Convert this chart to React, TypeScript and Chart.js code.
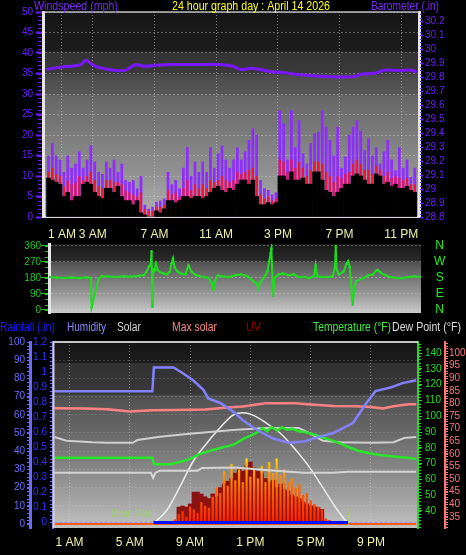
import React, { useEffect, useRef } from "react";
import { Chart, registerables } from "chart.js";

Chart.register(...registerables);

const SANS = '"Liberation Sans", Arial, Helvetica, sans-serif';
const NARROW = '"Liberation Sans Narrow", "Liberation Sans", Arial, sans-serif';

// ================= TOP PANEL: wind speed / barometer =================
const windTimes = [
  0.125, 0.375, 0.625, 0.875, 1.125, 1.375, 1.625, 1.875, 2.125, 2.375, 2.625, 2.875,
  3.125, 3.375, 3.625, 3.875, 4.125, 4.375, 4.625, 4.875, 5.125, 5.375, 5.625, 5.875,
  6.125, 6.375, 6.625, 6.875, 7.125, 7.375, 7.625, 7.875, 8.125, 8.375, 8.625, 8.875,
  9.125, 9.375, 9.625, 9.875, 10.125, 10.375, 10.625, 10.875, 11.125, 11.375, 11.625, 11.875,
  12.125, 12.375, 12.625, 12.875, 13.125, 13.375, 13.625, 13.875, 14.125, 14.375, 14.625, 14.875,
  15.125, 15.375, 15.625, 15.875, 16.125, 16.375, 16.625, 16.875, 17.125, 17.375, 17.625, 17.875,
  18.125, 18.375, 18.625, 18.875, 19.125, 19.375, 19.625, 19.875, 20.125, 20.375, 20.625, 20.875,
  21.125, 21.375, 21.625, 21.875, 22.125, 22.375, 22.625, 22.875, 23.125, 23.375, 23.625, 23.875,
];
const windGust = [
  15, 18, 15, 14, 11, 15, 12, 13, 16, 12, 14, 17.5,
  13.5, 11, 10.5, 13.5, 12, 14, 11, 13, 9, 8.5, 9, 7,
  10, 3, 2, 2.5, 3.7, 4, 4.5, 11, 8, 9, 7, 12,
  17, 10, 13.5, 11, 13.5, 11, 17, 12, 15.5, 17.4, 14, 12,
  14, 17, 14, 16, 18.8, 21.6, 20, 9, 7, 6.6, 5.5, 6,
  26, 22.8, 14, 26, 17, 23.6, 15.5, 13, 18, 20.4, 20.8, 26,
  22, 18.8, 15, 22, 12, 14.7, 20, 22, 23.6, 21, 16.3, 19.2,
  15, 17, 13, 16, 18.8, 14, 11.4, 17, 12, 14, 9.8, 12,
];
const windSpeed = [
  11, 12, 10.5, 10, 7.5, 9, 8, 8.5, 10, 9, 10, 11,
  9, 7.5, 7, 9, 9, 8.5, 8.5, 8, 6.5, 6, 5.5, 5,
  6, 2, 1.5, 1.5, 2.5, 2.5, 3, 6.5, 5.5, 6, 5, 7,
  9, 6.5, 8, 7, 8, 7, 9, 8.5, 9, 10, 9, 8.5,
  9, 11, 10.5, 11, 11.5, 12, 10, 5.5, 4.5, 5, 4, 4.5,
  14, 13.5, 11, 14, 12, 13.5, 12, 10, 11.5, 13.5, 13.5, 13,
  11, 10, 8.5, 10, 9.5, 10.5, 11, 13, 14, 13, 11.5, 11.5,
  10.5, 12.5, 11.5, 10, 11, 9.5, 10, 9.5, 9, 9.5, 8, 8,
];
const windLow = [
  9.5, 9, 8.5, 8, 5, 6, 4, 5, 5, 8, 8.5, 8,
  6, 5, 4.5, 7, 7, 6, 7.5, 5, 4, 4, 3, 4,
  1, 0.5, 0, 0, 1.5, 1, 2, 4, 4, 3.5, 4, 5,
  5, 4.5, 5, 5, 4.5, 5, 6, 7, 7.5, 6.5, 6, 7,
  6.5, 8, 9, 9, 8, 9, 5, 3, 3, 3.5, 3, 3.5,
  10, 10, 9, 11, 9, 9, 9.5, 8, 8, 11, 11, 9,
  6.5, 6, 5, 6, 7, 8, 8, 10, 10.5, 10, 9, 8,
  8, 10.5, 10, 8, 8.5, 7.5, 8, 7, 7, 7.5, 6.5, 6,
];
const baroTimes = [
  0, 0.9, 2.2, 2.55, 2.95, 3.35, 4.25, 5.1, 5.75, 6.4, 7.05, 8.35, 10, 11.25, 12.1,
  12.55, 13.4, 14.5, 15.5, 16.45, 17.75, 19.05, 20.0, 20.35, 21.3, 21.95, 22.95, 23.6, 24,
];
const baroValues = [
  29.855, 29.87, 29.888, 29.92, 29.89, 29.87, 29.85, 29.848, 29.888, 29.877, 29.884, 29.89, 29.89, 29.89, 29.877,
  29.855, 29.862, 29.84, 29.83, 29.816, 29.805, 29.8, 29.805, 29.82, 29.827, 29.85, 29.846, 29.85, 29.836,
];
const windTicks = [0, 5, 10, 15, 20, 25, 30, 35, 40, 45, 50];
const baroTicks = [28.8, 28.9, 29.0, 29.1, 29.2, 29.3, 29.4, 29.5, 29.6, 29.7, 29.8, 29.9, 30.0, 30.1, 30.2];
const topTickHours = [1, 3, 7, 11, 15, 19, 23];
const topTickLabels = ["1 AM", "3 AM", "7 AM", "11 AM", "3 PM", "7 PM", "11 PM"];

// ================= MIDDLE PANEL: wind direction =================
const dirTimes = [
  0, 0.5, 1.0, 1.5, 2.0, 2.4, 2.7, 2.75, 2.8, 2.85, 2.95, 3.05, 3.2, 3.4, 3.8, 4.3, 4.8, 5.3, 5.8, 6.1,
  6.3, 6.45, 6.55, 6.62, 6.65, 6.7, 6.8, 6.9, 7.0, 7.2, 7.4, 7.6, 7.8, 7.9, 8.0, 8.1, 8.3, 8.5, 8.8, 9.0,
  9.2, 9.5, 10.0, 10.3, 10.5, 10.6, 10.7, 10.9, 11.2, 11.6, 12.0, 12.4, 12.8, 13.0, 13.2, 13.4, 13.5, 13.6, 13.8, 14.0,
  14.1, 14.2, 14.3, 14.35, 14.45, 14.55, 14.8, 15.1, 15.5, 15.8, 16.1, 16.5, 16.8, 17.1, 17.2, 17.3, 17.6, 18.0, 18.3, 18.45,
  18.5, 18.55, 18.7, 19.0, 19.2, 19.3, 19.4, 19.5, 19.55, 19.6, 19.7, 19.8, 20.0, 20.3, 20.6, 20.9, 21.1, 21.2, 21.4, 21.7,
  22.0, 22.4, 22.8, 23.2, 23.6, 24,
];
const dirValues = [
  185, 182, 180, 183, 178, 184, 180, 15, 35, 60, 90, 125, 175, 190, 188, 185, 190, 187, 192, 195,
  215, 245, 250, 330, 20, 230, 220, 260, 225, 210, 205, 200, 215, 260, 290, 240, 215, 205, 200, 250,
  215, 195, 185, 180, 150, 115, 160, 195, 190, 185, 195, 200, 190, 175, 160, 150, 120, 150, 175, 200,
  220, 270, 320, 345, 80, 180, 200, 205, 195, 200, 185, 185, 180, 190, 250, 190, 185, 185, 190, 240,
  360, 230, 200, 215, 260, 275, 240, 130, 60, 30, 120, 160, 170, 180, 195, 200, 220, 225, 210, 195,
  185, 180, 178, 185, 190, 185,
];
const dirTicks = [0, 90, 180, 270, 360];
const compassLabels = ["N", "E", "S", "W", "N"];

// ================= BOTTOM PANEL =================
const humTimes = [0, 6.5, 6.6, 7.9, 8.5, 9.2, 9.9, 10.2, 11, 11.9, 12.5, 13.2, 13.8, 14.5, 15.6, 16.6, 17.6, 18.5, 19.8, 20.7, 21.3, 22.3, 23.1, 24];
const humValues = [73, 73, 86, 86, 83, 79, 73.6, 69, 66.5, 61.6, 57, 53, 50, 47, 44.5, 45.5, 48, 50, 55.5, 66.5, 73, 75, 77.4, 79];

const tempTimes = [0, 6.5, 6.6, 7.7, 8.5, 9.0, 9.7, 10.5, 11.2, 11.9, 12.6, 13.2, 13.5, 13.8, 14.1, 14.4, 14.8, 15.1, 15.4, 15.8, 16.2, 16.6, 17.2, 17.8, 18.3, 18.9, 19.5, 20.2, 20.9, 21.6, 22.5, 23.3, 24];
const tempValues = [73.7, 73.7, 69.6, 69.6, 71.5, 73, 76.3, 78.6, 80.3, 82, 86, 88.5, 90, 92.5, 90.5, 93, 91, 93, 91.5, 92, 90.5, 90, 88.5, 86.5, 85, 83, 80.5, 78, 76.5, 75.4, 74.5, 73.8, 72.9];

const dewTimes = [0, 2, 3.5, 5.0, 6.5, 8, 10, 11.5, 12.5, 14, 16, 17, 18.5, 20, 21, 21.8, 22.5, 23.5, 24];
const dewValues = [78.1, 78, 77.7, 76.8, 77.3, 77.4, 77.6, 78.4, 78.8, 80.1, 80.1, 79.6, 79, 78.9, 78.6, 78, 78.9, 79.7, 79.7];

const grayHighTimes = [0, 0.8, 2.5, 3.5, 5.2, 5.5, 7.0, 8.8, 10.5, 11.85, 14, 16.2, 17.0, 17.8, 19, 21, 22.5, 23.2, 24];
const grayHighValues = [86.8, 84.5, 83.5, 83.2, 83.2, 84.9, 87, 88.7, 90.2, 91.3, 92.5, 92.5, 89, 84.5, 83.5, 83.2, 83.5, 86.2, 86.8];

const grayLowTimes = [0, 6.4, 6.55, 6.7, 7.0, 9.5, 9.8, 12.0, 14.0, 16.5, 18.5, 19.5, 24];
const grayLowValues = [64.2, 64.2, 60.9, 64.2, 65.5, 65.5, 67.2, 67.5, 66, 64.2, 64.2, 64.9, 64.9];

const maxSolarTimes = [6.54, 7.47, 8.33, 9.19, 10.12, 10.85, 11.85, 12.51, 13.17, 14.04, 14.97, 15.83, 16.96, 17.82, 18.68, 19.48];
const maxSolarValues = [0, 77, 205, 342, 445, 516, 598, 611, 598, 555, 500, 424, 307, 198, 88, 0];

const solarTimes = [
  7.5, 7.75, 8, 8.25, 8.5, 8.75, 9, 9.25, 9.5, 9.75, 10, 10.25, 10.5, 10.75, 11, 11.25,
  11.5, 11.75, 12, 12.25, 12.5, 12.75, 13, 13.25, 13.5, 13.75, 14, 14.25, 14.5, 14.75, 15, 15.25,
  15.5, 15.75, 16, 16.25, 16.5, 16.75, 17, 17.25, 17.5, 17.75, 18, 18.25, 18.5, 18.75, 19, 19.25,
];
const solarValues = [
  8, 15, 25, 55, 70, 40, 95, 80, 60, 120, 100, 90, 150, 200, 170, 290,
  210, 330, 240, 300, 230, 360, 260, 310, 250, 320, 230, 340, 280, 360, 270, 300,
  230, 250, 200, 220, 160, 170, 130, 110, 95, 80, 30, 22, 15, 10, 8, 5,
];
const uvValues = [
  0, 0, 0, 93, 99, 93, 110, 175, 175, 165, 150, 140, 165, 150, 200, 220,
  235, 250, 280, 300, 290, 320, 340, 310, 290, 280, 250, 230, 240, 200, 220, 190,
  180, 160, 150, 140, 120, 110, 100, 95, 90, 80, 0, 0, 0, 0, 0, 0,
];

const rainTimes = [6.55, 19.48];
const rainValues = [0, 0];
const rainDayTimes = [0, 24];
const rainDayValues = [0, 0];
const solarBaseTimes = [0, 24];
const solarBaseValues = [0, 0];
const moonTimes = [6.54, 19.48];

const humTicks = [0, 10, 20, 30, 40, 50, 60, 70, 80, 90, 100];
const rainTicks = [0, 0.1, 0.2, 0.3, 0.4, 0.5, 0.6, 0.7, 0.8, 0.9, 1.0, 1.1, 1.2];
const tempTicks = [40, 50, 60, 70, 80, 90, 100, 110, 120, 130, 140];
const dewTicks = [35, 40, 45, 50, 55, 60, 65, 70, 75, 80, 85, 90, 95, 100];
const bottomTickHours = [1, 5, 9, 13, 17, 21];
const bottomTickLabels = ["1 AM", "5 AM", "9 AM", "1 PM", "5 PM", "9 PM"];

// ================= helpers =================
const pts = (xs: number[], ys: number[]) => xs.map((x, i) => ({ x, y: ys[i] }));
const setTicks = (vals: number[]) => (s: any) => {
  s.ticks = vals.map((v) => ({ value: v }));
};
const fmt1 = (v: any) => String(Math.round(Number(v) * 10) / 10);

function bgPlugin(id: string, stops: [number, string][]) {
  return {
    id,
    beforeDraw(chart: any) {
      const a = chart.chartArea;
      if (!a) return;
      const ctx = chart.ctx;
      const g = ctx.createLinearGradient(0, a.top, 0, a.bottom);
      stops.forEach(([p, c]) => g.addColorStop(p, c));
      ctx.save();
      ctx.fillStyle = g;
      ctx.fillRect(a.left, a.top, a.right - a.left, a.bottom - a.top);
      ctx.restore();
    },
  };
}

type Txt = { t: string; x: number; y: number; w: number; c: string; f: string };
function textPlugin(id: string, items: Txt[]) {
  return {
    id,
    afterDraw(chart: any) {
      const ctx = chart.ctx;
      ctx.save();
      ctx.textBaseline = "alphabetic";
      ctx.textAlign = "left";
      items.forEach((it) => {
        ctx.font = it.f;
        ctx.fillStyle = it.c;
        ctx.fillText(it.t, it.x, it.y, it.w);
      });
      ctx.restore();
    },
  };
}

type Minor = { axis: string; from: number; to: number; step: number; len: number; color: string };
function minorPlugin(id: string, list: Minor[]) {
  return {
    id,
    afterDraw(chart: any) {
      const ctx = chart.ctx;
      ctx.save();
      ctx.lineWidth = 1;
      list.forEach((m) => {
        const s = chart.scales[m.axis];
        if (!s) return;
        ctx.strokeStyle = m.color;
        ctx.beginPath();
        const n = Math.round((m.to - m.from) / m.step);
        for (let k = 0; k <= n; k++) {
          const y = Math.round(s.getPixelForValue(m.from + k * m.step)) + 0.5;
          if (y < chart.chartArea.top - 1 || y > chart.chartArea.bottom + 1) continue;
          const left = s.position === "left";
          const x0 = left ? s.right - 1 : s.left + 1;
          const x1 = left ? x0 - m.len : x0 + m.len;
          ctx.moveTo(x0, y);
          ctx.lineTo(x1, y);
        }
        ctx.stroke();
      });
      ctx.restore();
    },
  };
}

function framePlugin(id: string, color: string, left: boolean) {
  return {
    id,
    afterDatasetsDraw(chart: any) {
      const a = chart.chartArea;
      const ctx = chart.ctx;
      ctx.save();
      ctx.strokeStyle = color;
      ctx.lineWidth = 2;
      ctx.beginPath();
      ctx.moveTo(a.left, a.top);
      ctx.lineTo(a.right, a.top);
      if (left) {
        ctx.moveTo(a.left + 0.5, a.top);
        ctx.lineTo(a.left + 0.5, a.bottom);
      }
      ctx.stroke();
      ctx.restore();
    },
  };
}

const commonOpts = {
  responsive: false,
  maintainAspectRatio: false,
  animation: false as const,
  events: [] as any[],
  plugins: { legend: { display: false }, tooltip: { enabled: false } },
  elements: { point: { radius: 0 }, line: { tension: 0 } },
};

// lineHeight kept small so the scale's label padding doesn't shrink the plot area
const yTickFont = { family: NARROW, size: 10, lineHeight: 0.7 };

// ================= TOP CHART =================
function makeTop(canvas: HTMLCanvasElement) {
  const barBase = { yAxisID: "yW", grouped: false, categoryPercentage: 1, borderWidth: 0 };
  return new Chart(canvas, {
    type: "bar",
    data: {
      datasets: [
        {
          type: "line",
          label: "Barometer",
          data: pts(baroTimes, baroValues),
          yAxisID: "yB",
          borderColor: "#7a16ff",
          borderWidth: 3,
          pointRadius: 0,
          tension: 0.35,
          order: 0,
        } as any,
        { ...barBase, label: "Low", data: pts(windTimes, windLow), backgroundColor: "#000000", barPercentage: 1, order: 1 },
        { ...barBase, label: "Speed", data: pts(windTimes, windSpeed), backgroundColor: "#f0143c", barPercentage: 0.55, order: 2 },
        { ...barBase, label: "Gust", data: pts(windTimes, windGust), backgroundColor: "#8f2cff", barPercentage: 0.7, order: 3 },
      ],
    },
    options: {
      ...commonOpts,
      layout: { padding: { top: 12, left: 0, right: 0, bottom: 0 } },
      scales: {
        x: {
          type: "linear",
          offset: false,
          min: -0.23,
          max: 24.15,
          afterBuildTicks: setTicks(topTickHours),
          afterFit: (s: any) => {
            s.height = 23;
          },
          ticks: {
            callback: (v: any) => topTickLabels[topTickHours.indexOf(Number(v))] ?? "",
            color: "#f2f2a8",
            font: { family: SANS, size: 12 },
            padding: 10,
            maxRotation: 0,
            autoSkip: false,
          },
          grid: { color: "rgba(205,205,205,0.55)", drawTicks: false, offset: false },
          border: { color: "#d8d8d8", width: 2, dash: [1, 2] },
        },
        yW: {
          type: "linear",
          position: "left",
          min: 0,
          max: 50,
          afterBuildTicks: setTicks(windTicks),
          afterFit: (s: any) => {
            s.width = 43;
          },
          ticks: { color: "#6c1cff", font: yTickFont, padding: 3, autoSkip: false },
          grid: { color: "rgba(220,220,220,0.38)", tickColor: "#6c1cff", tickLength: 7, tickWidth: 2 },
          border: { color: "#e6e6e6", width: 3, dash: [2, 2] },
        },
        yB: {
          type: "linear",
          position: "right",
          min: 28.8,
          max: 30.265,
          afterBuildTicks: setTicks(baroTicks),
          afterFit: (s: any) => {
            s.width = 47;
          },
          ticks: { callback: fmt1, color: "#6c1cff", font: yTickFont, padding: 2, autoSkip: false },
          grid: { drawOnChartArea: false, tickColor: "#6c1cff", tickLength: 4, tickWidth: 2 },
          border: { color: "#e6e6e6", width: 3 },
        },
      },
    } as any,
    plugins: [
      bgPlugin("bgTop", [
        [0, "#151515"],
        [0.19, "#1d1d1d"],
        [0.2, "#333333"],
        [0.3, "#3a3a3a"],
        [0.31, "#4a4a4a"],
        [0.4, "#585858"],
        [0.41, "#666666"],
        [0.6, "#7c7c7c"],
        [0.8, "#939393"],
        [1, "#b0b0b0"],
      ]),
      framePlugin("frameTop", "rgba(200,200,200,0.7)", false),
      minorPlugin("minorTop", [
        { axis: "yW", from: 0, to: 50, step: 1, len: 4, color: "#6c1cff" },
        { axis: "yB", from: 28.8, to: 30.25, step: 0.025, len: 2, color: "#6c1cff" },
      ]),
      textPlugin("txtTop", [
        { t: "Windspeed (mph)", x: 34, y: 10, w: 84, c: "#7a2cf0", f: `12px ${SANS}` },
        { t: "24 hour graph day : April 14 2026", x: 172, y: 10, w: 158, c: "#ffff22", f: `12px ${SANS}` },
        { t: "Barometer (.in)", x: 371, y: 10, w: 68, c: "#7a2cf0", f: `12px ${SANS}` },
      ]),
    ],
  });
}

// ================= MIDDLE CHART =================
function makeMid(canvas: HTMLCanvasElement) {
  return new Chart(canvas, {
    type: "line",
    data: {
      datasets: [
        {
          label: "Direction",
          data: pts(dirTimes, dirValues),
          borderColor: "#1fdc1f",
          borderWidth: 2,
          pointRadius: 1.3,
          pointBackgroundColor: "#1fdc1f",
          pointBorderWidth: 0,
          tension: 0,
        },
      ],
    },
    options: {
      ...commonOpts,
      layout: { padding: { top: 4, bottom: 5, left: 0, right: 0 }, autoPadding: false },
      scales: {
        x: { type: "linear", min: 0, max: 24, display: false },
        y: {
          type: "linear",
          position: "left",
          min: -17,
          max: 371,
          afterBuildTicks: setTicks(dirTicks),
          afterFit: (s: any) => {
            s.width = 49;
          },
          ticks: { color: "#1ec81e", font: yTickFont, padding: 0, autoSkip: false },
          grid: { color: "rgba(220,220,220,0.35)", tickColor: "#1ec81e", tickLength: 8 },
          border: { color: "#e6e6e6", width: 3, dash: [2, 2] },
        },
        yr: {
          type: "linear",
          position: "right",
          min: -17,
          max: 371,
          afterBuildTicks: setTicks(dirTicks),
          afterFit: (s: any) => {
            s.width = 45;
          },
          ticks: {
            callback: (v: any) => compassLabels[dirTicks.indexOf(Number(v))] ?? "",
            color: "#22ee22",
            font: { family: SANS, size: 12, lineHeight: 0.6 },
            padding: 0,
            crossAlign: "center",
            autoSkip: false,
          },
          grid: { drawOnChartArea: false, drawTicks: true, tickLength: 13, tickColor: "rgba(0,0,0,0)" },
          border: { display: false },
        },
      },
    } as any,
    plugins: [
      bgPlugin("bgMid", [
        [0, "#1a1a1a"],
        [0.25, "#2a2a2a"],
        [0.26, "#505050"],
        [0.5, "#767676"],
        [0.75, "#9c9c9c"],
        [1, "#cacaca"],
      ]),
      minorPlugin("minorMid", [{ axis: "y", from: 0, to: 360, step: 30, len: 3, color: "#1ec81e" }]),
    ],
  });
}

// ================= BOTTOM CHART =================
function makeBottom(canvas: HTMLCanvasElement) {
  const solarFill = (c: any) => {
    const chart = c.chart;
    if (!chart.chartArea || !chart.scales.ySol) return "#ff8c00";
    const y0 = chart.scales.ySol.getPixelForValue(0);
    const y1 = chart.scales.ySol.getPixelForValue(370);
    const g = chart.ctx.createLinearGradient(0, y0, 0, y1);
    g.addColorStop(0, "#ff1e00");
    g.addColorStop(0.5, "#ff6400");
    g.addColorStop(0.8, "#ffa000");
    g.addColorStop(1, "#ffe400");
    return g;
  };
  const line = (label: string, xs: number[], ys: number[], axis: string, color: string, width: number, order: number, extra: any = {}) =>
    ({
      type: "line",
      label,
      data: pts(xs, ys),
      yAxisID: axis,
      borderColor: color,
      borderWidth: width,
      pointRadius: 0,
      order,
      ...extra,
    } as any);

  const moonPlugin = {
    id: "moonMarks",
    afterDatasetsDraw(chart: any) {
      const ctx = chart.ctx;
      const xs = chart.scales.x;
      const a = chart.chartArea;
      ctx.save();
      ctx.strokeStyle = "rgba(170,215,80,0.9)";
      ctx.lineWidth = 1;
      ctx.setLineDash([1, 1]);
      moonTimes.forEach((t) => {
        const x = Math.round(xs.getPixelForValue(t)) + 0.5;
        ctx.beginPath();
        ctx.moveTo(x, a.bottom - 20);
        ctx.lineTo(x, a.bottom - 3);
        ctx.stroke();
      });
      ctx.restore();
    },
  };

  return new Chart(canvas, {
    type: "bar",
    data: {
      datasets: [
        line("Rain", rainTimes, rainValues, "yR", "#0010ff", 3, 0),
        line("Rain day", rainDayTimes, rainDayValues, "yR", "#9090ff", 1, 1, { borderDash: [3, 2] }),
        line("Solar base", solarBaseTimes, solarBaseValues, "ySol", "#ff5a10", 2, 2),
        line("Humidity", humTimes, humValues, "yH", "#8282ff", 2.5, 3),
        line("Temperature", tempTimes, tempValues, "yT", "#2ae62a", 2.5, 4),
        line("Dew", dewTimes, dewValues, "yD", "#ff8282", 2.5, 5),
        line("Gray high", grayHighTimes, grayHighValues, "yT", "#cfcfcf", 2, 6),
        line("Gray low", grayLowTimes, grayLowValues, "yT", "#d4d4d4", 2, 7),
        line("Max solar", maxSolarTimes, maxSolarValues, "ySol", "#ececec", 1.5, 8, { cubicInterpolationMode: "monotone" }),
        {
          type: "bar",
          label: "Solar",
          data: pts(solarTimes, solarValues),
          yAxisID: "ySol",
          backgroundColor: solarFill,
          grouped: false,
          barPercentage: 0.6,
          categoryPercentage: 1,
          borderWidth: 0,
          order: 9,
        } as any,
        {
          type: "bar",
          label: "UV",
          data: pts(solarTimes, uvValues),
          yAxisID: "ySol",
          backgroundColor: "#8c1212",
          grouped: false,
          barPercentage: 1,
          categoryPercentage: 1,
          borderWidth: 0,
          order: 10,
        } as any,
      ],
    },
    options: {
      ...commonOpts,
      layout: { padding: { top: 24, left: 0, right: 0, bottom: 0 } },
      scales: {
        x: {
          type: "linear",
          offset: false,
          min: -0.093,
          max: 24.12,
          afterBuildTicks: setTicks(bottomTickHours),
          afterFit: (s: any) => {
            s.height = 27;
          },
          ticks: {
            callback: (v: any) => bottomTickLabels[bottomTickHours.indexOf(Number(v))] ?? "",
            color: "#f2f2a8",
            font: { family: SANS, size: 12 },
            padding: 7,
            maxRotation: 0,
            autoSkip: false,
          },
          grid: { color: "rgba(205,205,205,0.5)", drawTicks: false, offset: false },
          border: { display: false, dash: [1, 2] },
        },
        yH: {
          type: "linear",
          position: "left",
          weight: 1,
          min: -2.2,
          max: 100,
          afterBuildTicks: setTicks(humTicks),
          afterFit: (s: any) => {
            s.width = 30;
          },
          ticks: { color: "#6a6aff", font: yTickFont, padding: 2, autoSkip: false },
          grid: { color: "rgba(215,215,215,0.2)", tickColor: "#6a6aff", tickLength: 3 },
          border: { color: "#6a6aff", width: 3, dash: [2, 2] },
        },
        yR: {
          type: "linear",
          position: "left",
          weight: 0,
          min: -0.0366,
          max: 1.2,
          afterBuildTicks: setTicks(rainTicks),
          afterFit: (s: any) => {
            s.width = 23;
          },
          ticks: { callback: fmt1, color: "#3030ff", font: yTickFont, padding: 3, autoSkip: false },
          grid: { drawOnChartArea: false, tickColor: "#6a6aff", tickLength: 3 },
          border: { color: "#6a6aff", width: 2 },
        },
        yT: {
          type: "linear",
          position: "right",
          weight: 0,
          min: 29.2,
          max: 147,
          afterBuildTicks: setTicks(tempTicks),
          afterFit: (s: any) => {
            s.width = 27;
          },
          ticks: { color: "#22dd22", font: yTickFont, padding: 3, autoSkip: false },
          grid: { drawOnChartArea: false, tickColor: "#22dd22", tickLength: 4 },
          border: { color: "#22dd22", width: 2 },
        },
        yD: {
          type: "linear",
          position: "right",
          weight: 1,
          min: 30.6,
          max: 104.4,
          afterBuildTicks: setTicks(dewTicks),
          afterFit: (s: any) => {
            s.width = 21;
          },
          ticks: { color: "#ff7878", font: yTickFont, padding: 1, autoSkip: false },
          grid: { drawOnChartArea: false, tickColor: "#ff7878", tickLength: 3 },
          border: { color: "#ff7878", width: 2 },
        },
        ySol: { type: "linear", display: false, min: -22, max: 1000 },
      },
    } as any,
    plugins: [
      bgPlugin("bgBot", [
        [0, "#151515"],
        [0.11, "#1c1c1c"],
        [0.115, "#323232"],
        [0.28, "#383838"],
        [0.29, "#505050"],
        [0.5, "#6a6a6a"],
        [0.7, "#8a8a8a"],
        [0.85, "#a4a4a4"],
        [1, "#c2c2c2"],
      ]),
      framePlugin("frameBot", "rgba(225,225,225,0.85)", true),
      moonPlugin,
      minorPlugin("minorBot", [
        { axis: "yH", from: 0, to: 100, step: 2, len: 2, color: "#6a6aff" },
        { axis: "yR", from: 0, to: 1.2, step: 0.025, len: 2, color: "#6a6aff" },
        { axis: "yT", from: 30, to: 146, step: 2, len: 2, color: "#22dd22" },
        { axis: "yD", from: 31, to: 104, step: 1, len: 2, color: "#ff7878" },
      ]),
      textPlugin("txtBot", [
        { t: "Rainfall (.in)", x: 0, y: 13, w: 55, c: "#1a1aff", f: `12px ${SANS}` },
        { t: "Humidity", x: 67, y: 13, w: 39, c: "#8a8aff", f: `12px ${SANS}` },
        { t: "Solar", x: 117, y: 13, w: 24, c: "#d8d8d8", f: `12px ${SANS}` },
        { t: "Max solar", x: 172, y: 13, w: 45, c: "#ff8a8a", f: `12px ${SANS}` },
        { t: "UV", x: 246, y: 13, w: 15, c: "#9a0000", f: `12px ${SANS}` },
        { t: "Temperature (°F)", x: 313, y: 13, w: 78, c: "#44ee44", f: `12px ${SANS}` },
        { t: "Dew Point (°F)", x: 392, y: 13, w: 69, c: "#dddddd", f: `12px ${SANS}` },
        { t: "Moon Rise", x: 111, y: 199, w: 41, c: "rgba(150,215,90,0.8)", f: `10px ${SANS}` },
      ]),
    ],
  });
}

function useChart(build: (c: HTMLCanvasElement) => Chart) {
  const ref = useRef<HTMLCanvasElement>(null);
  useEffect(() => {
    if (!ref.current) return;
    const ch = build(ref.current);
    return () => ch.destroy();
  }, []);
  return ref;
}

export default function App() {
  const topRef = useChart(makeTop);
  const midRef = useChart(makeMid);
  const botRef = useChart(makeBottom);
  const cs = (top: number, h: number): React.CSSProperties => ({ position: "absolute", left: 0, top, width: 466, height: h });
  return (
    <div style={{ position: "fixed", left: 0, top: 0, width: 466, height: 555, background: "#000", overflow: "hidden" }}>
      <canvas ref={topRef} width={466} height={240} style={cs(0, 240)} />
      <canvas ref={midRef} width={466} height={78} style={cs(240, 78)} />
      <canvas ref={botRef} width={466} height={237} style={cs(318, 237)} />
    </div>
  );
}
